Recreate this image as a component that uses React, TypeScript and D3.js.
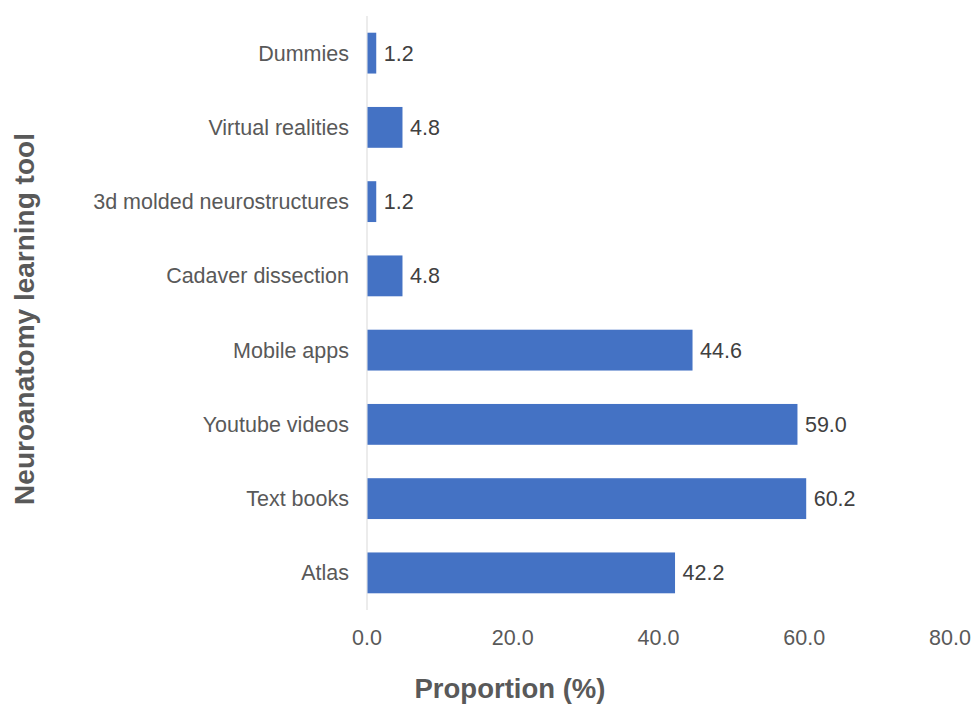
import React from "react";
import * as d3 from "d3";

const categories = ["Dummies", "Virtual realities", "3d molded neurostructures", "Cadaver dissection", "Mobile apps", "Youtube videos", "Text books", "Atlas"];
const values = [1.2, 4.8, 1.2, 4.8, 44.6, 59.0, 60.2, 42.2];
const xTicks = [0, 20, 40, 60, 80];

export default function App() {
  const W = 975, H = 707;
  const x = d3.scaleLinear().domain([0, 80]).range([367, 950]);
  const y = d3.scaleBand().domain(categories).range([16, 610]).paddingInner(0.45).paddingOuter(0.225);
  const font = "Liberation Sans, Arial, sans-serif";
  const textColor = "#595959";
  return (
    <svg width={W} height={H} style={{ position: "absolute", left: 0, top: 0, background: "#fff" }} fontFamily={font}>
      <line x1={x(0)} x2={x(0)} y1={16} y2={610} stroke="#d9d9d9" strokeWidth={1} />
      {categories.map((c, i) => (
        <g key={c}>
          <rect x={x(0) + 0.5} y={y(c)!} width={x(values[i]) - x(0)} height={y.bandwidth()} fill="#4472C4" />
          <text x={x(values[i]) + 8} y={y(c)! + y.bandwidth() / 2} dy="0.35em" fontSize={21.5} fill="#404040">{values[i].toFixed(1)}</text>
          <text x={349} y={y(c)! + y.bandwidth() / 2} dy="0.35em" fontSize={21.5} fill={textColor} textAnchor="end">{c}</text>
        </g>
      ))}
      {xTicks.map((t) => (
        <text key={t} x={x(t)} y={637} dy="0.35em" fontSize={21.5} fill={textColor} textAnchor="middle">{t.toFixed(1)}</text>
      ))}
      <text x={510} y={688} dy="0.35em" fontSize={27.5} fontWeight="bold" fill={textColor} textAnchor="middle">Proportion (%)</text>
      <text transform={`translate(24,319) rotate(-90)`} dy="0.35em" fontSize={28} fontWeight="bold" fill={textColor} textAnchor="middle">Neuroanatomy learning tool</text>
    </svg>
  );
}
